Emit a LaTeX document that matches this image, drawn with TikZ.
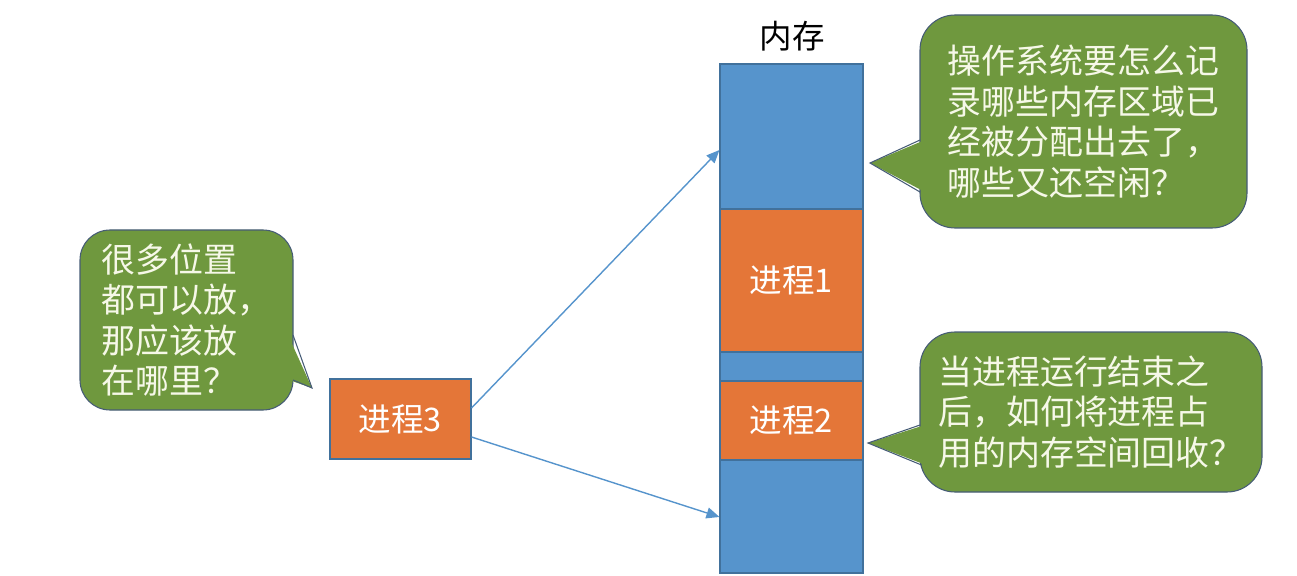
\documentclass[tikz,border=0pt]{standalone}
\usepackage{fontspec}
\setmainfont{Noto Sans CJK SC}
\usepackage{xcolor}
\usepackage{tikz}
\usetikzlibrary{arrows.meta,positioning,calc}
\definecolor{memblue}{RGB}{86,148,204}
\definecolor{procorange}{RGB}{228,118,56}
\definecolor{calloutgreen}{RGB}{111,152,62}
\definecolor{boxedge}{RGB}{65,113,156}
\definecolor{calloutedge}{RGB}{70,92,118}
\definecolor{calloutink}{RGB}{246,248,232}

\begin{document}
\begin{tikzpicture}[
  block/.style={rectangle, draw=boxedge, line width=0.6pt, inner sep=0pt, minimum width=2.86cm, font=\fontsize{18.5}{22}\selectfont},
  proc/.style={block, fill=procorange, text=white},
  bubble/.style={rectangle, draw=calloutedge, line width=0.6pt, fill=calloutgreen, rounded corners=0.7cm, inner sep=0pt, align=left, text=calloutink, font=\fontsize{19.3}{23}\selectfont},
  link/.style={-{Triangle[length=2.6mm,width=2.2mm]}, draw=memblue, line width=0.8pt},
]
  \useasboundingbox (0,0) rectangle (25.94,-11.52);

  % memory column
  \node[block, fill=memblue, minimum height=10.18cm] (mem) at (15.83,-6.37) {};
  \node[proc, minimum height=2.86cm] (p1) at (15.83,-5.61) {进程1};
  \node[proc, minimum height=1.58cm] (p2) at (15.83,-8.41) {进程2};
  \node[font=\fontsize{18.5}{22}\selectfont] (memlabel) at (15.84,-0.72) {内存};

  % new process
  \node[proc, minimum width=2.82cm, minimum height=1.6cm] (p3) at (8.01,-8.38) {进程3};

  \draw[link] ([yshift=2.2mm]p3.east) -- ([yshift=3.37cm]mem.west);
  \draw[link] ([yshift=-3.6mm]p3.east) -- ([yshift=-3.97cm]mem.west);

  % callouts
  \node[bubble, rounded corners=0.6cm, minimum width=4.26cm, minimum height=3.6cm] (askwhere) at (3.73,-6.4)
    {很多位置\\都可以放，\\那应该放\\在哪里？};
  \fill[calloutgreen] (5.76,-6.7) -- (6.24,-7.76) -- (5.78,-7.6) -- cycle;
  \draw[calloutedge, line width=0.6pt] (5.86,-6.7) -- (6.24,-7.76) -- (5.86,-7.6);

  \node[bubble, minimum width=6.54cm, minimum height=4.26cm] (askrecord) at (21.67,-2.43)
    {操作系统要怎么记\\录哪些内存区域已\\经被分配出去了，\\哪些又还空闲？};
  \fill[calloutgreen] (18.5,-2.8) -- (17.4,-3.26) -- (18.5,-3.84) -- cycle;
  \draw[calloutedge, line width=0.6pt] (18.4,-2.8) -- (17.4,-3.26) -- (18.4,-3.84);

  \node[bubble, minimum width=6.84cm, minimum height=3.2cm] (askfree) at (21.82,-8.24)
    {当进程运行结束之\\后，如何将进程占\\用的内存空间回收？};
  \fill[calloutgreen] (18.5,-8.5) -- (17.36,-8.86) -- (18.52,-9.3) -- cycle;
  \draw[calloutedge, line width=0.6pt] (18.4,-8.5) -- (17.36,-8.86) -- (18.43,-9.3);
\end{tikzpicture}
\end{document}
